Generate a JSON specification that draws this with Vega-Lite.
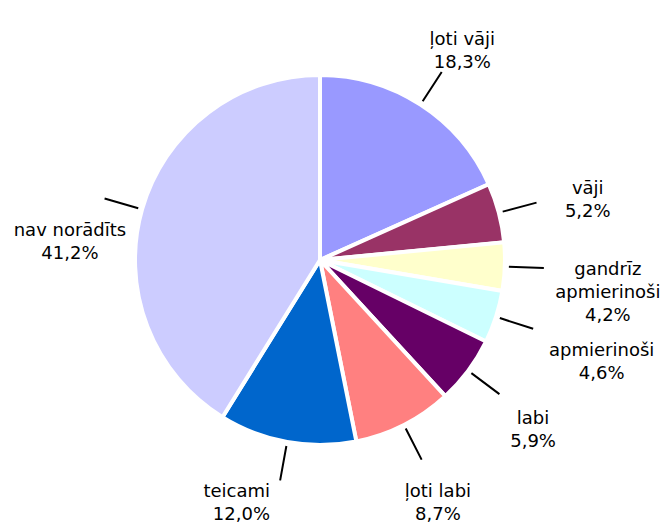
{
  "$schema": "https://vega.github.io/schema/vega-lite/v6.json",
  "width": 640,
  "height": 520,
  "autosize": {"type": "none"},
  "padding": {"left": 0, "top": 0, "right": 22, "bottom": 10},
  "background": "white",
  "config": {
    "view": {"stroke": null},
    "text": {"font": "DejaVu Sans", "fontSize": 18, "lineHeight": 23, "lineBreak": "\n", "color": "black", "align": "center", "baseline": "middle"}
  },
  "data": {
    "values": [
      {"i": 1, "cat": "ļoti vāji", "pct": 18.3, "txt": "ļoti vāji\n18,3%"},
      {"i": 2, "cat": "vāji", "pct": 5.2, "txt": "vāji\n5,2%"},
      {"i": 3, "cat": "gandrīz apmierinoši", "pct": 4.2, "txt": "gandrīz\napmierinoši\n4,2%"},
      {"i": 4, "cat": "apmierinoši", "pct": 4.6, "txt": "apmierinoši\n4,6%"},
      {"i": 5, "cat": "labi", "pct": 5.9, "txt": "labi\n5,9%"},
      {"i": 6, "cat": "ļoti labi", "pct": 8.7, "txt": "ļoti labi\n8,7%"},
      {"i": 7, "cat": "teicami", "pct": 12.0, "txt": "teicami\n12,0%"},
      {"i": 8, "cat": "nav norādīts", "pct": 41.2, "txt": "nav norādīts\n41,2%"}
    ]
  },
  "layer": [
    {
      "mark": {"type": "arc", "radius": 185, "stroke": "white", "strokeWidth": 4},
      "encoding": {
        "theta": {"field": "pct", "type": "quantitative", "stack": true, "scale": {"domain": [0, 100.1]}},
        "color": {
          "field": "cat",
          "type": "nominal",
          "scale": {
            "domain": ["ļoti vāji", "vāji", "gandrīz apmierinoši", "apmierinoši", "labi", "ļoti labi", "teicami", "nav norādīts"],
            "range": ["#9999FF", "#993366", "#FFFFCC", "#CCFFFF", "#660066", "#FF8080", "#0066CC", "#CCCCFF"]
          },
          "legend": null
        },
        "order": {"field": "i", "type": "quantitative"}
      }
    },
    {
      "transform": [
        {"stack": "pct", "groupby": [], "sort": [{"field": "i", "order": "ascending"}], "as": ["s0", "s1"]},
        {"fold": ["s0", "s1"], "as": ["k", "v"]},
        {"aggregate": [{"op": "mean", "field": "v", "as": "mid"}], "groupby": ["cat", "txt", "i"]}
      ],
      "layer": [
        {
          "mark": {"type": "arc", "radius": 224, "radius2": 189, "stroke": "black", "strokeWidth": 2, "fillOpacity": 0},
          "encoding": {
            "theta": {"field": "mid", "type": "quantitative", "stack": null, "scale": {"domain": [0, 100.1]}},
            "theta2": {"field": "mid"}
          }
        },
        {
          "transform": [{"filter": {"field": "i", "equal": 1}}],
          "mark": {"type": "text", "radius": 262},
          "encoding": {"theta": {"field": "mid", "type": "quantitative", "stack": null, "scale": {"domain": [0, 100.1]}}, "text": {"field": "txt"}}
        },
        {
          "transform": [{"filter": {"field": "i", "equal": 2}}],
          "mark": {"type": "text", "radius": 277},
          "encoding": {"theta": {"field": "mid", "type": "quantitative", "stack": null, "scale": {"domain": [0, 100.1]}}, "text": {"field": "txt"}}
        },
        {
          "transform": [{"filter": {"field": "i", "equal": 3}}],
          "mark": {"type": "text", "radius": 288},
          "encoding": {"theta": {"field": "mid", "type": "quantitative", "stack": null, "scale": {"domain": [0, 100.1]}}, "text": {"field": "txt"}}
        },
        {
          "transform": [{"filter": {"field": "i", "equal": 4}}],
          "mark": {"type": "text", "radius": 296},
          "encoding": {"theta": {"field": "mid", "type": "quantitative", "stack": null, "scale": {"domain": [0, 100.1]}}, "text": {"field": "txt"}}
        },
        {
          "transform": [{"filter": {"field": "i", "equal": 5}}],
          "mark": {"type": "text", "radius": 266},
          "encoding": {"theta": {"field": "mid", "type": "quantitative", "stack": null, "scale": {"domain": [0, 100.1]}}, "text": {"field": "txt"}}
        },
        {
          "transform": [{"filter": {"field": "i", "equal": 6}}],
          "mark": {"type": "text", "radius": 260},
          "encoding": {"theta": {"field": "mid", "type": "quantitative", "stack": null, "scale": {"domain": [0, 100.1]}}, "text": {"field": "txt"}}
        },
        {
          "transform": [{"filter": {"field": "i", "equal": 7}}],
          "mark": {"type": "text", "radius": 236, "align": "right", "dx": -8},
          "encoding": {"theta": {"field": "mid", "type": "quantitative", "stack": null, "scale": {"domain": [0, 100.1]}}, "text": {"field": "txt"}}
        },
        {
          "transform": [{"filter": {"field": "i", "equal": 8}}],
          "mark": {"type": "text", "radius": 260, "dy": 42},
          "encoding": {"theta": {"field": "mid", "type": "quantitative", "stack": null, "scale": {"domain": [0, 100.1]}}, "text": {"field": "txt"}}
        }
      ]
    }
  ]
}
